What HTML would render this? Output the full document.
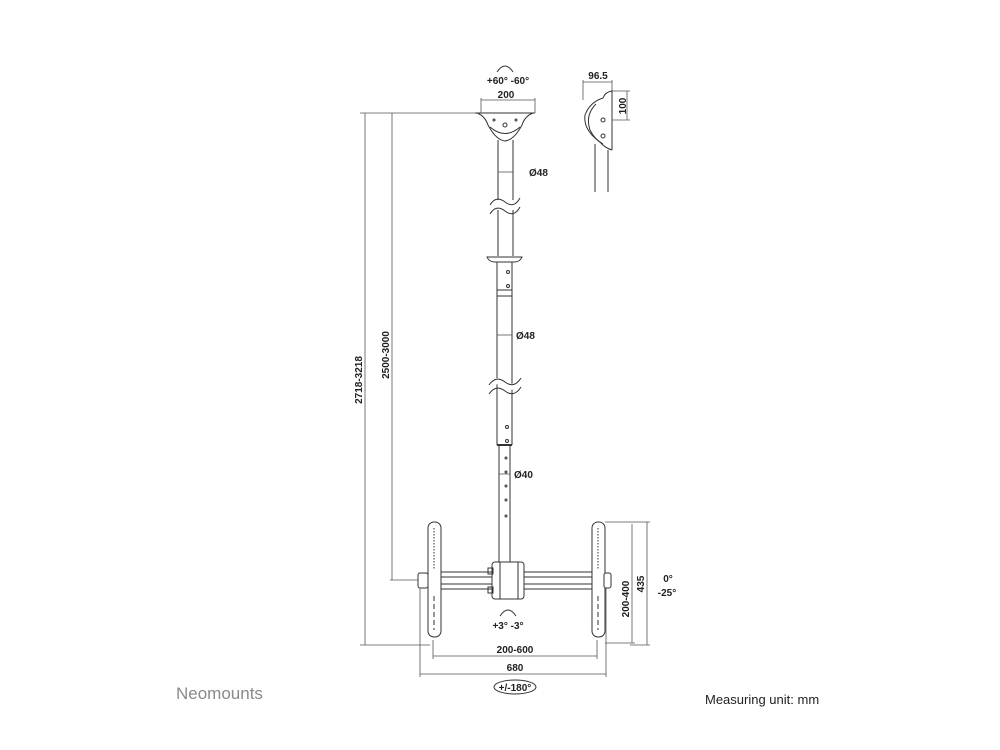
<!DOCTYPE html>
<html><head><style>
html,body{margin:0;padding:0;background:#fff;}
svg{display:block}
text{font-family:"Liberation Sans",sans-serif;fill:#222;}
</style></head><body>
<svg width="1000" height="750" viewBox="0 0 1000 750" xmlns="http://www.w3.org/2000/svg">
<g stroke="#333" stroke-width="1" fill="none">
<!-- ceiling plate -->
<line x1="475" y1="113" x2="535" y2="113"/>
<path d="M477 113 Q485 116 488 125 Q496 140 505 141 Q514 140 522 125 Q525 116 533 113"/>
<path d="M490 127 Q505 140 520 127"/>
<circle cx="505" cy="125" r="2"/><circle cx="494" cy="120" r="1"/><circle cx="516" cy="120" r="1"/>
<!-- upper pole -->
<line x1="498" y1="140" x2="498" y2="200"/><line x1="513" y1="140" x2="513" y2="200"/>
<path d="M490 205 Q496 195 505 202 Q514 209 520 198"/>
<path d="M490 214 Q496 204 505 211 Q514 218 520 207"/>
<line x1="498" y1="210" x2="498" y2="256"/><line x1="513" y1="210" x2="513" y2="256"/>
<!-- collar -->
<path d="M487 257 L522 257 Q520 262 514 262 L495 262 Q489 262 487 257Z"/>
<!-- middle pole -->
<line x1="497" y1="262" x2="497" y2="445"/><line x1="512" y1="262" x2="512" y2="445"/>
<line x1="497" y1="290" x2="512" y2="290"/><line x1="497" y1="296" x2="512" y2="296"/>
<circle cx="508" cy="272" r="1.5"/><circle cx="508" cy="286" r="1.5"/>
<path d="M489 387 Q496 377 505 384 Q514 391 521 380" stroke="#fff" stroke-width="6"/>
<path d="M489 385 Q496 375 505 382 Q514 389 521 378"/>
<path d="M489 394 Q496 384 505 391 Q514 398 521 387"/>
<circle cx="507" cy="427" r="1.5"/><circle cx="507" cy="441" r="1.5"/>
<line x1="497" y1="445" x2="512" y2="445" stroke-width="2"/>
<!-- lower pole -->
<line x1="499" y1="446" x2="499" y2="563"/><line x1="510" y1="446" x2="510" y2="563"/>
<circle cx="506" cy="458" r="1"/><circle cx="506" cy="472" r="1"/><circle cx="506" cy="486" r="1"/><circle cx="506" cy="500" r="1"/><circle cx="506" cy="516" r="1"/>
<!-- horizontal bar -->
<rect x="428" y="572" width="176" height="17"/>
<line x1="428" y1="577" x2="604" y2="577"/>
<line x1="428" y1="584" x2="604" y2="584"/>
<!-- center block -->
<rect x="492" y="562" width="32" height="37" rx="3" fill="#fff"/>
<line x1="500" y1="562" x2="500" y2="599"/><line x1="518" y1="562" x2="518" y2="599"/>
<rect x="488" y="568" width="5" height="6"/><rect x="488" y="587" width="5" height="6"/>
<!-- uprights -->
<rect x="428" y="522" width="13" height="115" rx="6" fill="#fff"/>
<rect x="592" y="522" width="13" height="115" rx="6" fill="#fff"/>
<line x1="434" y1="528" x2="434" y2="570" stroke-dasharray="1.5 1.5"/>
<line x1="598" y1="528" x2="598" y2="570" stroke-dasharray="1.5 1.5"/>
<line x1="434" y1="596" x2="434" y2="630" stroke-dasharray="5 3"/>
<line x1="598" y1="596" x2="598" y2="630" stroke-dasharray="5 3"/>
<rect x="418" y="573" width="10" height="15" rx="2" fill="#fff"/>
<rect x="604" y="573" width="7" height="15" rx="2" fill="#fff"/>
<!-- side view -->
<line x1="612" y1="90" x2="612" y2="150"/>
<path d="M612 91 Q605 92 603 98 Q590 102 585 115 Q583 130 600 142 Q605 148 612 150"/>
<path d="M596 104 Q585 115 590 130 Q595 140 603 144"/>
<circle cx="603" cy="120" r="2"/><circle cx="603" cy="136" r="2"/>
<line x1="595" y1="144" x2="595" y2="192"/><line x1="608" y1="150" x2="608" y2="192"/>
<!-- dims -->
<g stroke="#555" stroke-width="0.8">
<line x1="583" y1="82" x2="612" y2="82"/><line x1="583" y1="80" x2="583" y2="100"/><line x1="612" y1="80" x2="612" y2="90"/>
<line x1="627" y1="91" x2="627" y2="120"/><line x1="612" y1="91" x2="630" y2="91"/><line x1="612" y1="120" x2="630" y2="120"/>
<line x1="481" y1="100" x2="535" y2="100"/><line x1="481" y1="98" x2="481" y2="113"/><line x1="535" y1="98" x2="535" y2="113"/>
<line x1="365" y1="113" x2="365" y2="645"/><line x1="360" y1="113" x2="475" y2="113"/><line x1="360" y1="645" x2="430" y2="645"/>
<line x1="392" y1="113" x2="392" y2="580"/><line x1="390" y1="580" x2="418" y2="580"/>
<line x1="632" y1="524" x2="632" y2="643"/><line x1="647" y1="522" x2="647" y2="645"/>
<line x1="605" y1="522" x2="650" y2="522"/><line x1="605" y1="643" x2="635" y2="643"/><line x1="630" y1="645" x2="650" y2="645"/>
<line x1="433" y1="656" x2="597" y2="656"/><line x1="433" y1="640" x2="433" y2="659"/><line x1="597" y1="640" x2="597" y2="659"/>
<line x1="420" y1="674" x2="606" y2="674"/><line x1="420" y1="588" x2="420" y2="677"/><line x1="606" y1="588" x2="606" y2="677"/>
<line x1="498" y1="172" x2="513" y2="172"/><line x1="497" y1="335" x2="512" y2="335"/><line x1="499" y1="474" x2="510" y2="474"/>
</g>
<path d="M497 72 Q505 60 513 72"/>
<path d="M500 616 Q508 604 516 616"/>
<ellipse cx="515" cy="687" rx="21" ry="7"/>
</g>
<g font-size="10" font-weight="bold" text-anchor="middle">
<text x="508" y="84">+60° -60°</text>
<text x="506" y="98">200</text>
<text x="598" y="79">96.5</text>
<text x="626" y="106" transform="rotate(-90 626 106)">100</text>
<text x="529" y="176" text-anchor="start">Ø48</text>
<text x="516" y="339" text-anchor="start">Ø48</text>
<text x="514" y="478" text-anchor="start">Ø40</text>
<text x="362" y="380" transform="rotate(-90 362 380)">2718-3218</text>
<text x="389" y="355" transform="rotate(-90 389 355)">2500-3000</text>
<text x="629" y="599" transform="rotate(-90 629 599)">200-400</text>
<text x="644" y="584" transform="rotate(-90 644 584)">435</text>
<text x="668" y="582">0°</text>
<text x="667" y="596">-25°</text>
<text x="508" y="629">+3° -3°</text>
<text x="515" y="653">200-600</text>
<text x="515" y="671">680</text>
<text x="515" y="691">+/-180°</text>
</g>
<text x="176" y="699" font-size="17" style="fill:#8a8a8a">Neomounts</text>
<text x="705" y="704" font-size="13">Measuring unit: mm</text>
</svg>
</body></html>
